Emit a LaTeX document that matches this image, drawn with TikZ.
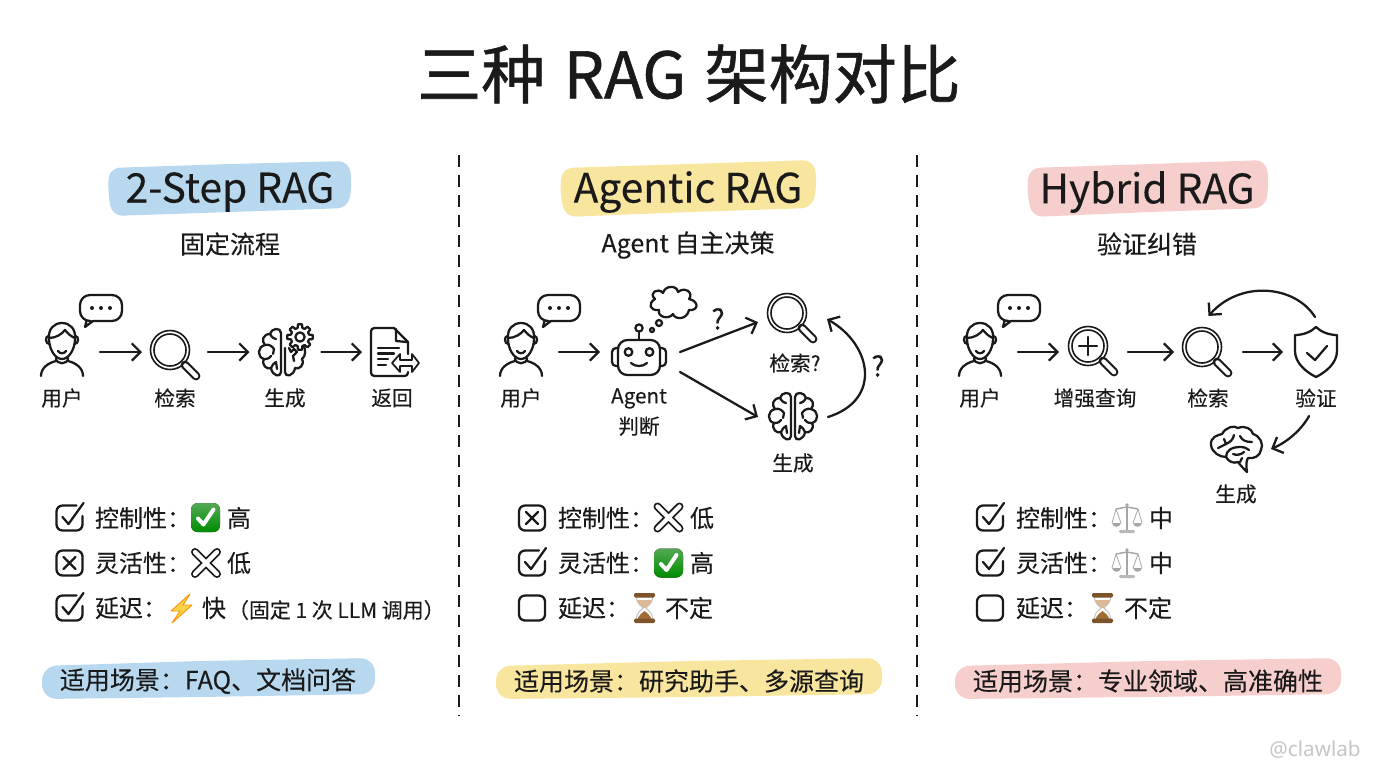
\documentclass[tikz,border=0pt]{standalone}
\usepackage{fontspec}
\setmainfont{Noto Sans CJK SC}[FakeBold=0.2]
\newfontfamily\latinf{Noto Sans}
\usetikzlibrary{arrows.meta,calc}
\definecolor{ink}{HTML}{1A1A1A}
\definecolor{hlblue}{HTML}{B7D8EE}
\definecolor{hlyellow}{HTML}{F8E59E}
\definecolor{hlpink}{HTML}{F6CFCC}
\newcommand{\fs}[1]{\fontsize{#1}{#1}\selectfont}
\tikzset{
  x=0.75pt,y=-0.75pt,
  ico/.style={line width=1.7pt,draw=ink,line cap=round,line join=round},
  thin ico/.style={line width=1.2pt,draw=ink,line cap=round,line join=round},
  arr/.style={line width=1.7pt,draw=ink,line cap=round,-{Straight Barb[length=6.5pt,width=13pt,line width=1.7pt]}},
  ic/.style={inner sep=0pt,outer sep=0pt,minimum height=30pt},
  txt/.style={inner sep=0pt,outer sep=0pt,text=ink},
  lab/.style={txt,font=\fs{15.5}},
  sub/.style={txt,font=\fs{18.75}},
  band/.style={txt,font=\fs{30.5}},
  row/.style={txt,anchor=west,font=\fs{18}},
  pilltxt/.style={txt,font=\fs{18.75}},
  sep/.style={line width=2pt,draw=ink,dash pattern=on 9pt off 6pt},
  user/.pic={
    \draw[ico] (-13,-2) .. controls (-14,-12) and (-8,-18) .. (0,-18) .. controls (8,-18) and (14,-12) .. (13,-2) .. controls (13,8) and (7,18) .. (0,18) .. controls (-7,18) and (-13,8) .. (-13,-2);
    \draw[ico] (-13,-3) .. controls (-6,-3) and (0,-7) .. (3,-11) .. controls (6,-7) and (10,-4) .. (13,-3);
    \draw[ico] (-13.5,-5) .. controls (-17,-5) and (-17,3) .. (-12.5,3);
    \draw[ico] (13.5,-5) .. controls (17,-5) and (17,3) .. (12.5,3);
    \draw[ico] (-4,10) .. controls (-2,13) and (2,13) .. (4,10);
    \draw[ico] (-6,17) .. controls (-6,24) and (6,24) .. (6,17);
    \draw[ico] (-21,35) .. controls (-21,27) and (-14,22) .. (-6,20);
    \draw[ico] (21,35) .. controls (21,27) and (14,22) .. (6,20);
  },
  bubble/.pic={
    \draw[ico,rounded corners=7.5pt] (-10,13) -- (-21,13) -- (-21,-13) -- (21,-13) -- (21,13) -- (-8,13);
    \draw[ico] (-8,13) -- (-16,19) -- (-14.5,13);
    \fill[ink] (-9,0) circle (2) (0,0) circle (2) (9,0) circle (2);
  },
  magn/.pic={
    \draw[thin ico] (0,0) circle (19.5);
    \draw[thin ico] (0,0) circle (16);
    \draw[line width=6.6pt,ink,line cap=round] (15,15) -- (26,26);
    \draw[line width=3.4pt,white,line cap=round] (15.5,15.5) -- (26,26);
  },
  brainleft/.pic={
    \draw[ico,fill=white] (-2,-20) .. controls (-2,-26) and (-12,-25) .. (-13,-19) .. controls (-20,-19) and (-22,-12) .. (-18,-8) .. controls (-26,-6) and (-26,4) .. (-19,6) .. controls (-22,12) and (-16,17) .. (-12,15) .. controls (-11,23) and (-2,25) .. (-2,19) -- cycle;
    \draw[ico] (-13,-19) .. controls (-11,-15) and (-8,-14) .. (-7,-14);
    \draw[ico] (-18,-8) .. controls (-14,-9) and (-11,-7) .. (-9,-4) (-9,-4) -- (-10,1);
    \draw[ico] (-19,6) .. controls (-15,6) and (-13,5) .. (-12,3);
    \draw[ico] (-12,15) .. controls (-11,12) and (-9,10) .. (-7,9) -- (-6,16);
  },
  gear/.pic={
    \draw[ico,fill=white] (-15:9.3)
      \foreach \a in {0,45,...,315} { -- (\a-15:9.3) -- (\a-9:12.8) -- (\a+9:12.8) -- (\a+15:9.3) } -- cycle;
    \draw[ico] (0,0) circle (4.6);
  },
  dochalf/.pic={
    \draw[ico,fill=white,rounded corners=2.5pt] (23,0) -- (0,0) -- (0,48) -- (37,48) -- (37,44);
    \draw[ico] (23,0) -- (37,14) -- (37,26);
    \draw[ico] (25,1) -- (25,13) -- (36,14);
    \draw[ico] (7,20) -- (28,20) (7,25.5) -- (23,25.5) (7,31) -- (17,31) (7,37) -- (15,37);
    \draw[thin ico,fill=white,line width=1.3pt] (21,35) -- (29,26) -- (29,32) -- (41,32) -- (41,26) -- (48,35) -- (41,44) -- (41,38) -- (29,38) -- (29,44) -- cycle;
  },
  robot/.pic={
    \draw[ico,rounded corners=7pt] (-21,-17) rectangle (21,18);
    \draw[ico,rounded corners=3pt] (-21,-9) -- (-27,-9) -- (-27,9) -- (-21,9);
    \draw[ico,rounded corners=3pt] (21,-9) -- (27,-9) -- (27,9) -- (21,9);
    \draw[ico] (-10.5,-5) circle (3.8) (10.5,-5) circle (3.8);
    \draw[ico] (-8,6) .. controls (-4,10) and (4,10) .. (8,6);
    \draw[ico] (0,-17) -- (0,-25);
    \draw[ico] (0,-29) circle (3.6);
  },
  cloud/.pic={
    \draw[ico] (-18,-4) .. controls (-25,-10) and (-15,-16) .. (-10,-10) .. controls (-8,-18) and (4,-18) .. (5,-11) .. controls (12,-17) and (21,-10) .. (16,-4) .. controls (26,-2) and (26,8) .. (16,7) .. controls (14,17) and (2,17) .. (0,11) .. controls (-4,17) and (-16,14) .. (-14,7) .. controls (-24,8) and (-25,0) .. (-18,-4) -- cycle;
  },
  shield/.pic={
    \draw[ico] (0,0) .. controls (5,5) and (13,8) .. (21,8) -- (21,24) .. controls (21,36) and (10,45) .. (0,50) .. controls (-10,45) and (-21,36) .. (-21,24) -- (-21,8) .. controls (-13,8) and (-5,5) .. (0,0) -- cycle;
    \draw[ico] (-9,26) -- (-1,33) -- (11,19);
  },
  sidebrain/.pic={
    \draw[ico] (-25,-4) .. controls (-26,-12) and (-18,-14) .. (-14,-15) .. controls (-10,-22) and (-2,-24) .. (2,-21) .. controls (9,-24) and (16,-20) .. (17,-15) .. controls (24,-13) and (28,-5) .. (25,1) .. controls (24,7) and (18,10) .. (12,9) .. controls (10,12) and (10,17) .. (11,23) .. controls (8,20) and (4,16) .. (2,13) .. controls (-3,15) and (-8,12) .. (-10,8) .. controls (-16,8) and (-24,4) .. (-25,-4) -- cycle;
    \draw[ico] (-18,-1) -- (-10,-5) -- (-12,-10) (-10,-5) .. controls (-6,-7) and (-3,-9) .. (-2,-14);
    \draw[ico] (4,-13) .. controls (6,-9) and (9,-7) .. (16,-7);
    \draw[ico] (-10,8) .. controls (-10,2) and (-5,-2) .. (4,-2) .. controls (8,-2) and (11,-1) .. (13,1);
    \draw[ico] (-3,5) .. controls (1,7) and (6,5) .. (8,3);
    \draw[ico] (4,13) -- (6,9);
  },
  cbempty/.pic={\draw[ico,rounded corners=4.5pt] (-13,-12.5) rectangle (13,12.5);},
  cbcross/.pic={\draw[ico,rounded corners=4.5pt] (-13,-12.5) rectangle (13,12.5);
    \draw[ico] (-6,-6) -- (6,6) (6,-6) -- (-6,6);},
  cbcheck/.pic={\draw[ico,rounded corners=4.5pt] (7,-12.5) -- (-13,-12.5) -- (-13,12.5) -- (13,12.5) -- (13,-2);
    \draw[ico] (-7,-1) -- (-1,6) -- (14,-15);},
  emcheck/.pic={
    \fill[rounded corners=5pt,top color=white!35!green!60!black!85,bottom color=green!55!black] (-14.5,-14.5) rectangle (14.5,14.5);
    \draw[white,line width=3pt,line cap=round,line join=round] (-7.5,1) -- (-2,7) -- (8,-8);
  },
  emcross/.pic={
    \draw[ink,line width=6pt,line cap=round] (-11,-11) -- (11,11) (11,-11) -- (-11,11);
    \draw[white,line width=3.2pt,line cap=round] (-11,-11) -- (11,11) (11,-11) -- (-11,11);
  },
  embolt/.pic={
    \draw[fill=yellow!55!orange!70!white,draw=orange!85!yellow,line width=.7pt,line join=round] (9,-14) -- (-10,3) -- (-1,3) -- (-9,15) -- (11,-3) -- (2,-3) -- cycle;
  },
  emhour/.pic={
    \draw[gray!45,line width=.8pt] (-8,-11) .. controls (-8,-3) and (-2,-2) .. (-1.5,0) .. controls (-2,2) and (-8,3) .. (-8,11);
    \draw[gray!45,line width=.8pt] (8,-11) .. controls (8,-3) and (2,-2) .. (1.5,0) .. controls (2,2) and (8,3) .. (8,11);
    \fill[brown!55!white] (-7.5,-8) .. controls (-6,-3) and (-2,-2) .. (-1,0) -- (1,0) .. controls (2,-2) and (6,-3) .. (7.5,-8) -- cycle;
    \fill[brown!85!black] (-7,11) .. controls (-5,6) and (-2,5) .. (0,3) .. controls (2,5) and (5,6) .. (7,11) -- cycle;
    \fill[brown!65!black,rounded corners=1pt] (-10.5,-15) rectangle (10.5,-10.5);
    \fill[brown!65!black,rounded corners=1pt] (-10.5,10.5) rectangle (10.5,15);
  },
  emscale/.pic={
    \draw[gray!70,line width=1pt] (0,-12) -- (0,12);
    \draw[gray!70,line width=1.1pt,rounded corners=1pt] (-11,-9) -- (0,-11) -- (11,-9);
    \fill[gray!55,rounded corners=1pt] (-8,12) rectangle (8,15);
    \draw[gray!70,line width=.6pt] (-11,-9) -- (-15,5) (-11,-9) -- (-6,5) (11,-9) -- (6,5) (11,-9) -- (15,5);
    \fill[gray!70] (-15,5) .. controls (-14,10) and (-7,10) .. (-6,5) -- cycle;
    \fill[gray!70] (6,5) .. controls (7,10) and (14,10) .. (15,5) -- cycle;
    \fill[gray!70] (0,-13) circle (1.8);
  },
}
\begin{document}
\begin{tikzpicture}
\useasboundingbox (0,0) rectangle (1376,768);
\fill[white] (0,0) rectangle (1376,768);

% title
\node[txt,font=\fs{48}\addfontfeature{FakeBold=0.9}] (title) at (689,74) {三种\hspace{3pt} RAG\hspace{3pt} 架构对比};

% separators
\coordinate (sa) at (459,155); \coordinate (sb) at (459,716);
\coordinate (sc) at (917,155); \coordinate (sd) at (917,716);
\draw[sep] (sa) -- (sb);
\draw[sep] (sc) -- (sd);

% bands
\fill[hlblue,rounded corners=8pt] (109,168) -- (230,164) -- (349,161) -- (352,185) -- (348,208) -- (230,212) -- (112,216) -- (108,192) -- cycle;
\fill[hlyellow,rounded corners=8pt] (562,168) -- (690,164) -- (814,160) -- (817,185) -- (812,208) -- (690,212) -- (565,217) -- (560,192) -- cycle;
\fill[hlpink,rounded corners=8pt] (1029,168) -- (1150,164) -- (1266,160) -- (1269,185) -- (1265,208) -- (1150,212) -- (1032,217) -- (1027,192) -- cycle;
\node[band] (t1) at (230,192) {2-Step RAG};
\node[band] (t2) at (688,192) {Agentic RAG};
\node[band] (t3) at (1147,192) {Hybrid RAG};
\node[sub] (st1) at (230,244) {固定流程};
\node[sub] (st2) at (688,245) {Agent 自主决策};
\node[sub] (st3) at (1147,244) {验证纠错};

% anchors of icons
\node[ic,minimum width=76pt*.75] (u1) at (62,352) {};
\node[ic,minimum width=66pt*.75] (s1) at (175,352) {};
\node[ic,minimum width=72pt*.75] (b1) at (285.5,352) {};
\node[ic,minimum width=66pt*.75] (d1) at (395,352) {};
\node[ic,minimum width=76pt*.75] (u2) at (521,352) {};
\node[ic,minimum width=80pt*.75,minimum height=60pt*.75] (r2) at (640,362) {};
\node[ic,minimum width=69pt*.75] (s2) at (792.5,316) {};
\node[ic,minimum width=70pt*.75] (g2) at (793,417) {};
\node[ic,minimum width=76pt*.75] (u3) at (980,352) {};
\node[ic,minimum width=69pt*.75] (p3) at (1093.5,352) {};
\node[ic,minimum width=69pt*.75,minimum height=72pt*.75] (s3) at (1208.5,352) {};
\node[ic,minimum width=64pt*.75,minimum height=70pt*.75] (v3) at (1315,352) {};
\node[ic,minimum width=70pt*.75] (g3) at (1236,449) {};

% column 1 icons
\pic at (62,341) {user}; \pic at (101,308) {bubble};
\pic at (170,350) {magn};
\pic at (283,353) {brainleft};
\begin{scope}[shift={(283,353)},xscale=-1]
  \draw[ico] (-2,-5) -- (-2,19) .. controls (-2,25) and (-11,23) .. (-12,15) .. controls (-16,17) and (-22,12) .. (-19,6) .. controls (-23,3) and (-23,-4) .. (-20,-8);
  \draw[ico] (-6,-5) -- (-8,-1) -- (-11,-4) -- (-14,-1) -- (-10,3) -- (-11,8);
\end{scope}
\pic at (300,337) {gear};
\pic at (371,328) {dochalf};

% column 2 icons
\pic at (521,341) {user}; \pic at (559,308) {bubble};
\pic at (639,357) {robot};
\pic at (673,303) {cloud};
\draw[ico] (652,330) circle (2);
\draw[ico] (659,323) circle (3);
\pic at (787,313) {magn};
\pic at (793,417) {brainleft};
\pic[xscale=-1] at (793,417) {brainleft};

% column 3 icons
\pic at (980,341) {user}; \pic at (1019,308) {bubble};
\pic at (1088,346) {magn};
\draw[ico] (1088,337) -- (1088,355) (1079,346) -- (1097,346);
\pic at (1202,347) {magn};
\pic at (1316,327) {shield};
\pic at (1236,449) {sidebrain};

% flow labels
\node[lab] (l11) at (62,398) {用户};
\node[lab] (l12) at (175,398) {检索};
\node[lab] (l13) at (285,398) {生成};
\node[lab] (l14) at (392,398) {返回};
\node[lab] (l21) at (521,398) {用户};
\node[lab,align=center] (l22) at (639,412) {Agent\\[5pt]判断};
\node[lab] (l23) at (795,363) {检索?};
\node[lab] (l24) at (793,463) {生成};
\node[lab] (l31) at (980,398) {用户};
\node[lab] (l32) at (1095,398) {增强查询};
\node[lab] (l33) at (1208,398) {检索};
\node[lab,minimum width=50pt*.75,minimum height=36pt*.75] (l34) at (1316,398) {验证};
\node[lab] (l35) at (1236,494) {生成};
\node[txt,font=\fs{21}] (q1) at (718,319) {?};
\node[txt,font=\fs{21}] (q2) at (878,366) {?};

% arrows
\draw[arr] (u1) -- (s1);
\draw[arr] (s1) -- (b1);
\draw[arr] (b1) -- (d1);
\draw[arr] (u2.east) -- (r2.west |- u2.east);
\draw[arr] (r2.14) -- (s2.190);
\draw[arr] (r2.-14) -- (g2.west);
\draw[arr] (g2.east) .. controls (882,400) and (872,345) .. (s2.355);
\draw[arr] (u3) -- (p3);
\draw[arr] (p3) -- (s3);
\draw[arr] (s3) -- (v3);
\draw[arr] (v3.north) .. controls (1295,285) and (1240,280) .. (s3.north);
\draw[arr] (l34.249) .. controls (1300,432) and (1285,443) .. (g3.east);

% rows column 1
\pic at (69.5,518) {cbcheck};
\node[row] (a1) at (95,518) {控制性：};
\pic at (205.5,517.5) {emcheck};
\node[row] (a2) at (227,518) {高};
\pic at (69.5,563) {cbcross};
\node[row] (a3) at (95,563) {灵活性：};
\pic at (206,563) {emcross};
\node[row] (a4) at (227,563) {低};
\pic at (69.5,608) {cbcheck};
\node[row] (a5) at (95,608) {延迟：};
\pic at (181,608) {embolt};
\node[row] (a6) at (202,608) {快};
\node[row,font=\fs{15.7}] (a7) at (228,610) {（固定 1 次 LLM 调用）};

% rows column 2
\pic at (532,518) {cbcross};
\node[row] (b1t) at (558,518) {控制性：};
\pic at (668.5,517.5) {emcross};
\node[row] (b2t) at (690,518) {低};
\pic at (532,563) {cbcheck};
\node[row] (b3t) at (558,563) {灵活性：};
\pic at (668.5,563) {emcheck};
\node[row] (b4t) at (690,563) {高};
\pic at (532,608) {cbempty};
\node[row] (b5t) at (558,608) {延迟：};
\pic at (644.5,608) {emhour};
\node[row] (b6t) at (665,608) {不定};

% rows column 3
\pic at (990,518) {cbcheck};
\node[row] (c1t) at (1016,518) {控制性：};
\pic at (1127,518) {emscale};
\node[row] (c2t) at (1149,518) {中};
\pic at (990,563) {cbcheck};
\node[row] (c3t) at (1016,563) {灵活性：};
\pic at (1127,563) {emscale};
\node[row] (c4t) at (1149,563) {中};
\pic at (990,608) {cbempty};
\node[row] (c5t) at (1016,608) {延迟：};
\pic at (1102.5,608) {emhour};
\node[row] (c6t) at (1124,608) {不定};

% pills
\fill[hlblue,rounded corners=11pt] (42,666) -- (200,661) -- (375,658) -- (375,694) -- (200,697) -- (42,699) -- cycle;
\fill[hlyellow,rounded corners=11pt] (496,666) -- (690,661) -- (882,658) -- (882,694) -- (690,697) -- (496,699) -- cycle;
\fill[hlpink,rounded corners=11pt] (955,666) -- (1150,661) -- (1341,658) -- (1341,694) -- (1150,697) -- (955,699) -- cycle;
\node[pilltxt] (p1) at (208,681) {适用场景：FAQ、文档问答};
\node[pilltxt] (p2) at (689,681) {适用场景：研究助手、多源查询};
\node[pilltxt] (p3t) at (1148,681) {适用场景：专业领域、高准确性};

\node[txt,text=gray!45,font=\latinf\fs{15.5}] (wm) at (1315,750) {@clawlab};
\end{tikzpicture}
\end{document}
